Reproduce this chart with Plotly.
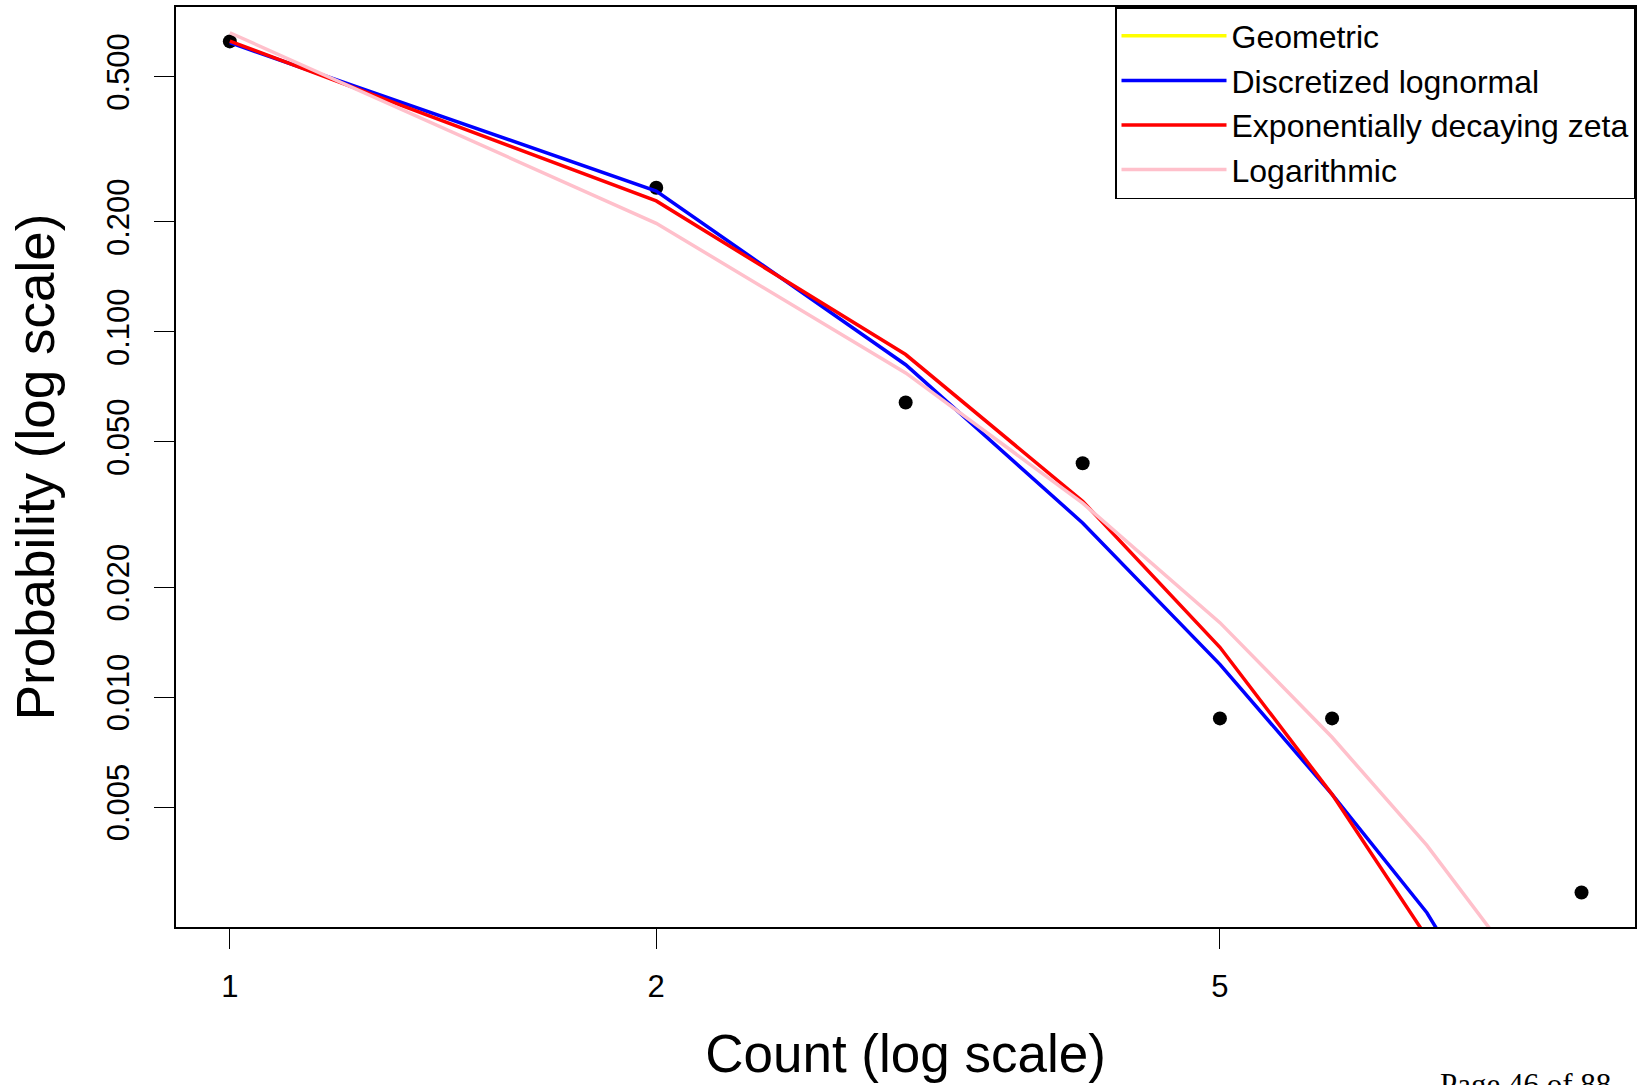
import plotly.graph_objects as go

# ---- data ----
obs_count = [1, 2, 3, 4, 5, 6, 9]
obs_prob = [0.624, 0.248, 0.0641, 0.0437, 0.00875, 0.00875, 0.00292]

fit_count = [1, 2, 3, 4, 5, 6, 7, 8]
geometric_prob = []  # legend entry only, no visible curve in the reference
lognormal_prob = [0.619, 0.2431, 0.0813, 0.0300, 0.0123, 0.00542, 0.00257, 0.0011]
zeta_prob = [0.625, 0.2283, 0.0867, 0.0344, 0.0137, 0.00542, 0.0022, 0.0008]
logarithmic_prob = [0.659, 0.1983, 0.0772, 0.0340, 0.0160, 0.00777, 0.00393, 0.00198]

x_ticks = [1, 2, 5]
y_ticks = [0.005, 0.010, 0.020, 0.050, 0.100, 0.200, 0.500]
y_tick_text = ["0.005", "0.010", "0.020", "0.050", "0.100", "0.200", "0.500"]

FONT = "Liberation Sans, Arial, Helvetica, sans-serif"

fig = go.Figure()

fig.add_trace(go.Scatter(
    x=obs_count, y=obs_prob, mode="markers",
    marker=dict(color="black", size=14), showlegend=False, name="Observed"))

series = [
    ("Geometric", geometric_prob, "#FFFF00"),
    ("Discretized lognormal", lognormal_prob, "#0000FF"),
    ("Exponentially decaying zeta", zeta_prob, "#FF0000"),
    ("Logarithmic", logarithmic_prob, "#FFC0CB"),
]
for name, vals, col in series:
    fig.add_trace(go.Scatter(
        x=fit_count[:len(vals)] if vals else [None],
        y=vals if vals else [None],
        mode="lines", name=name,
        line=dict(color=col, width=3.5)))

fig.update_layout(
    width=1643, height=1085,
    margin=dict(l=176, r=8, t=5, b=158),
    paper_bgcolor="white", plot_bgcolor="white",
    font=dict(family=FONT, color="black", size=31),
    legend=dict(
        x=1, xanchor="right", y=1, yanchor="top",
        bgcolor="white", bordercolor="black", borderwidth=1.5,
        font=dict(size=32, family=FONT), itemwidth=105,
        tracegroupgap=0),
    annotations=[dict(
        text="Page 46 of 88", xref="paper", yref="paper",
        x=0.865, y=-0.150, xanchor="left", yanchor="top",
        showarrow=False, font=dict(family="Liberation Serif, Times New Roman, serif", size=31))],
)

fig.update_xaxes(
    type="log", range=[-0.0380, 0.9920],
    tickvals=x_ticks, ticktext=[str(v) for v in x_ticks],
    ticks="outside", ticklen=20, tickwidth=1, tickcolor="black",
    showline=True, linecolor="black", linewidth=2, mirror=True,
    showgrid=False, zeroline=False,
    tickfont=dict(size=31), ticklabelstandoff=11,
    title=dict(text="Count (log scale)", font=dict(size=53), standoff=32))

fig.update_yaxes(
    type="log", range=[-2.629, -0.1106],
    tickvals=y_ticks, ticktext=y_tick_text,
    ticks="outside", ticklen=20, tickwidth=1, tickcolor="black",
    showline=True, linecolor="black", linewidth=2, mirror=True,
    showgrid=False, zeroline=False, tickangle=-90,
    tickfont=dict(size=31), ticklabelstandoff=13,
    title=dict(text="Probability (log scale)", font=dict(size=53), standoff=29))

fig.write_html("out.html", config={"displayModeBar": False},
               post_script="document.body.style.margin='0';document.body.style.overflow='hidden';")
